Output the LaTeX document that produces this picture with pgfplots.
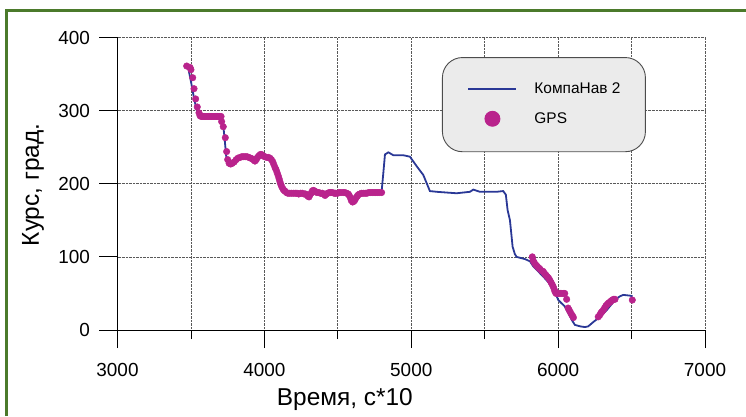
\documentclass[border=0pt]{standalone}
\usepackage{pgfplots}
\pgfplotsset{compat=1.18}
\usepackage{fontspec}
\setmainfont{Liberation Sans}
\definecolor{navyc}{HTML}{2A3896}
\definecolor{gpsc}{HTML}{B9238C}
\definecolor{framegreen}{HTML}{4B7A2B}
\begin{document}
\begin{tikzpicture}[x=1bp,y=1bp]
\useasboundingbox (0,0) rectangle (746,416);
\draw[color=framegreen, line width=2.5bp] (6.5,0) -- (6.5,405.5) -- (746,405.5);
\begin{axis}[
  at={(117.5bp,86bp)}, anchor=south west,
  width=587.5bp, height=292.5bp, scale only axis,
  xmin=3000, xmax=7000, ymin=0, ymax=400,
  axis x line=bottom, axis y line=left,
  axis line style={-, line width=0.8bp},
  xtick={3000,4000,5000,6000,7000},
  minor xtick={3500,4500,5500,6500},
  ytick={0,100,200,300,400},
  tick align=outside,
  major tick length=18bp, minor tick length=9bp,
  tick style={black, line width=0.8bp},
  grid=both,
  major grid style={densely dotted, black!65, line width=0.7bp},
  minor grid style={densely dotted, black!65, line width=0.7bp},
  ticklabel style={font=\fontsize{19}{21}\selectfont},
  xticklabel style={yshift=-12bp},
  yticklabel style={xshift=-6bp},
  /pgf/number format/assume math mode=true,
  /pgf/number format/set thousands separator={},
  xlabel={Время, с*10}, ylabel={Курс, град.},
  label style={font=\fontsize{24.5}{27}\selectfont},
  xlabel style={at={(axis description cs:0.387,-0.2393)}, anchor=center},
  ylabel style={at={(axis description cs:-0.1438,0.496)}, anchor=center},
  legend style={at={(rel axis cs:0.5523,0.933)}, anchor=north west,
    draw=black!70, line width=0.9bp, fill=black!8, rounded corners=20bp,
    inner xsep=25bp, inner ysep=25bp, font=\fontsize{15.5}{18}\selectfont,
    row sep=16bp, column sep=17bp, nodes={inner sep=0pt}},
  legend cell align=left,
]
\addplot[navyc, line width=1.8bp,
  legend image code/.code={\draw[draw=navyc, line width=2bp] (0bp,0bp) -- (48bp,0bp);}]
coordinates {
(3482,358) (3500,340) (3520,318) (3540,300) (3557,292) (3600,292) (3650,292)
(3709,292) (3720,280) (3730,260) (3740,238) (3750,230) (3766,227) (3800,230)
(3834,236) (3879,237) (3913,235) (3936,231) (3959,237) (3981,240) (4015,236)
(4038,235) (4061,228) (4083,217) (4099,207) (4118,196) (4140,189) (4174,187)
(4242,187) (4288,185) (4304,182) (4318,187) (4333,191) (4356,188) (4390,187)
(4413,184) (4435,187) (4458,188) (4492,187) (4537,188) (4571,187) (4583,182)
(4601,175) (4617,178) (4639,185) (4673,187) (4741,188) (4798,189) (4810,215)
(4821,240) (4844,243) (4878,239) (4946,239) (4991,237) (5037,224) (5082,212)
(5127,190) (5173,189) (5240,188) (5309,187) (5400,189) (5422,192) (5468,189)
(5581,189) (5626,190) (5644,185) (5656,164) (5672,150) (5690,114) (5705,104)
(5717,100) (5774,97) (5808,94) (5831,87) (5865,80) (5899,73) (5935,65)
(5967,57) (6001,41) (6046,32) (6070,23) (6092,14) (6114,7) (6150,5)
(6182,4) (6205,5) (6240,11) (6273,16) (6330,27) (6387,41) (6420,46)
(6443,48) (6489,47) (6507,46)
};
\addlegendentry{КомпаНав 2}
\addplot[only marks, mark=*, mark size=3.3bp, mark options={draw=gpsc, fill=gpsc},
  legend image code/.code={\fill[gpsc] (24bp,0bp) circle (7.5bp);}]
coordinates {
(3471,361) (3494,359) (3500,356) (3512,345) (3521,330) (3532,316) (3543,305)
(3555,297) (3562,293) (3570,292) (3578,292) (3586,292) (3594,292) (3602,292)
(3610,292) (3618,292) (3626,292) (3634,292) (3642,292) (3650,292) (3658,292)
(3666,292) (3674,292) (3682,292) (3690,292) (3698,292) (3705,292)
(3709,285) (3720,278) (3734,263) (3743,244)
(3750,233) (3760,228) (3770,227) (3782,228) (3795,230) (3808,233) (3820,235)
(3834,236) (3846,237) (3858,237) (3870,237) (3882,237) (3894,236) (3906,235)
(3918,234) (3930,232) (3936,231) (3945,233) (3953,236) (3962,238) (3972,240)
(3981,240) (3992,238) (4003,237) (4015,236) (4027,236) (4038,235) (4048,233)
(4057,230) (4065,226) (4073,222) (4080,219) (4087,215) (4094,211) (4100,207)
(4106,203) (4112,199) (4118,196) (4126,193) (4133,191) (4140,190) (4150,188)
(4160,187) (4172,187) (4185,187) (4198,187) (4210,187) (4222,187) (4234,186)
(4246,187) (4258,187) (4270,186) (4280,186) (4288,185) (4296,183) (4304,182)
(4311,185) (4318,187) (4326,190) (4333,191) (4342,190) (4350,189) (4358,188)
(4370,188) (4382,187) (4394,187) (4404,186) (4413,184) (4422,186) (4431,187)
(4442,188) (4452,188) (4463,188) (4475,187) (4486,187) (4498,187) (4510,188)
(4522,188) (4537,188) (4548,188) (4560,187) (4571,186) (4578,184) (4585,181)
(4592,177) (4601,175) (4609,176) (4617,178) (4625,181) (4632,183) (4640,185)
(4650,186) (4662,187) (4674,187) (4686,187) (4698,187) (4710,188) (4722,188)
(4734,188) (4746,188) (4758,188) (4770,188) (4782,188) (4798,188)
(5824,100) (5830,95) (5838,92) (5848,89) (5858,87) (5868,85) (5878,83)
(5888,81) (5899,80) (5908,77) (5917,75) (5926,73) (5935,71) (5944,68)
(5952,65) (5960,62) (5967,59) (5974,55) (5980,52) (5986,50) (5995,50)
(6005,50) (6015,50) (6025,50) (6035,50) (6045,50) (6058,42) (6068,30)
(6076,27) (6084,24) (6092,21) (6099,19) (6104,17)
(6273,18) (6282,20) (6290,23) (6298,25) (6307,27) (6316,30) (6325,33)
(6334,35) (6343,37) (6353,38) (6362,40) (6370,41) (6378,42) (6387,42)
(6505,41)
};
\addlegendentry{GPS}
\end{axis}
\end{tikzpicture}
\end{document}
